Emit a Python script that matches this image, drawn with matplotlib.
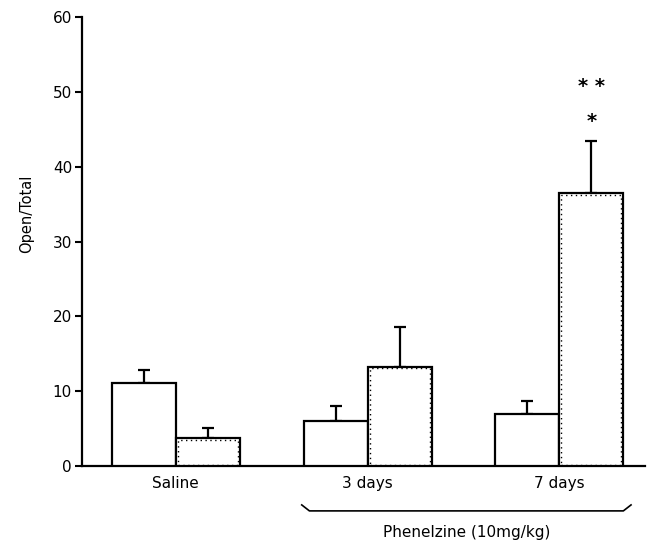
import matplotlib
matplotlib.use("Agg")
import matplotlib.pyplot as plt
import numpy as np

groups = ["Saline", "3 days", "7 days"]
series_a = [11.1, 6.0, 6.95]
series_a_err = [1.7, 2.0, 1.7]
series_b = [3.7, 13.3, 36.5]
series_b_err = [1.4, 5.3, 7.0]
yticks = [0, 10, 20, 30, 40, 50, 60]
bracket_label = "Phenelzine (10mg/kg)"
ylabel = "Open/Total"

plt.rcParams['font.family'] = ['DejaVu Sans']

fig = plt.figure(figsize=(6.49, 5.4), dpi=100)
ax = fig.add_axes([0.126, 0.137, 0.868, 0.831])

centers = np.arange(len(groups)) * 3.0
w = 1.0
xa = centers - w / 2
xb = centers + w / 2

ax.bar(xa, series_a, width=w, color="white", edgecolor="black", linewidth=1.6, zorder=3)
ax.bar(xb, series_b, width=w, color="white", edgecolor="black", linewidth=1.6, zorder=3)
# dotted inner lining on second bars
ax.bar(xb, np.array(series_b) - 0.35, bottom=0.15, width=w * 0.94, color="none",
       edgecolor="black", linewidth=1.0, linestyle=(0, (1, 2.5)), zorder=4)

ax.errorbar(xa, series_a, yerr=[np.zeros(3), series_a_err], fmt="none", ecolor="black",
            elinewidth=1.6, capsize=4.5, capthick=1.6, zorder=2)
ax.errorbar(xb, series_b, yerr=[np.zeros(3), series_b_err], fmt="none", ecolor="black",
            elinewidth=1.6, capsize=4.5, capthick=1.6, zorder=2)

# significance stars
top = series_b[2] + series_b_err[2]
ax.text(xb[2], top + 2.6, "*", ha="center", va="center", fontsize=14, fontweight="bold")
ax.text(xb[2], top + 7.3, "* *", ha="center", va="center", fontsize=14, fontweight="bold")

ax.set_ylim(0, 60)
ax.set_xlim(-1.47, 7.34)
ax.set_yticks(yticks)
ax.set_yticklabels([str(t) for t in yticks], fontsize=11)
ax.tick_params(axis="y", direction="out", length=5, width=1.5, pad=2)
ax.set_xticks([])
for s in ["top", "right"]:
    ax.spines[s].set_visible(False)
ax.spines["left"].set_linewidth(1.6)
ax.spines["bottom"].set_linewidth(1.6)

ax.set_ylabel(ylabel, fontsize=10.5, labelpad=10)
ax.yaxis.set_label_coords(-0.085, 0.563)

# group labels
for c, g in zip(centers, groups):
    ax.text(c, -1.3, g, ha="center", va="top", fontsize=11)

# bracket
x0 = xa[1] - w / 2 - 0.03
x1 = xb[2] + w / 2 + 0.12
yb = -6.0
ax.plot([x0, x0 + 0.12, x1 - 0.12, x1], [yb + 0.8, yb, yb, yb + 0.8],
        color="black", linewidth=1.2, clip_on=False)
ax.text((x0 + x1) / 2, yb - 1.9, bracket_label, ha="center", va="top", fontsize=11)

fig.savefig("out.png", dpi=100)
